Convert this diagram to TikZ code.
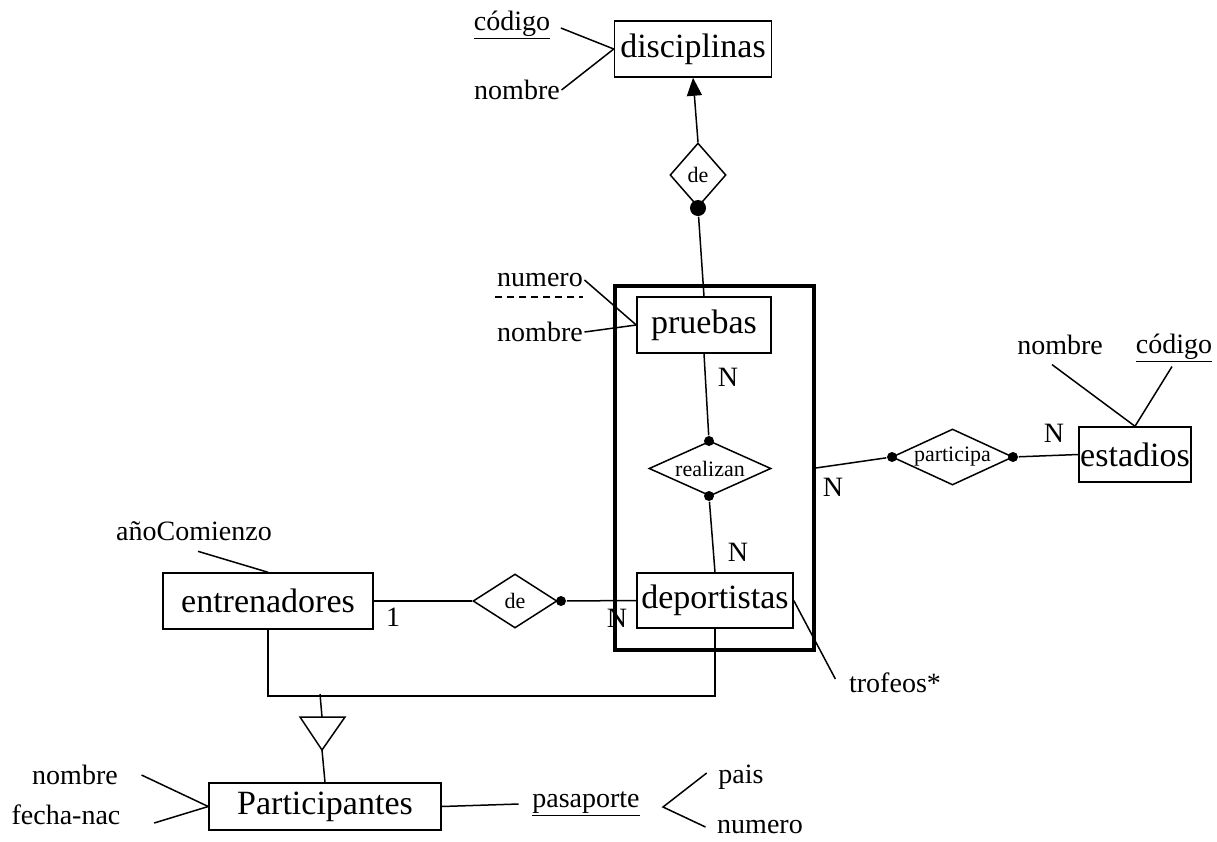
\documentclass[tikz,border=0pt]{standalone}
\usepackage{fontspec}
\setmainfont{Liberation Serif}
\usetikzlibrary{shapes.geometric,arrows.meta}

\begin{document}
\begin{tikzpicture}[x=1pt,y=-1pt,line width=1.5pt,
    entity/.style={draw,rectangle,inner sep=0pt,minimum height=56pt,font=\fontsize{34}{36}\selectfont},
    rel/.style={draw,diamond,inner sep=0pt,font=\fontsize{22}{24}\selectfont},
    attr/.style={inner sep=1pt,font=\fontsize{28}{30}\selectfont},
    card/.style={inner sep=0pt,font=\fontsize{28}{30}\selectfont},
    knob/.style={circle,fill,inner sep=0pt,minimum size=#1}]
    \useasboundingbox (0,0) rectangle (1217,841);
    % disciplinas
    \node[entity,minimum width=157pt] (disc) at (693,49) {disciplinas};
    \node[attr] (dcod) at (512,25) {\underline{código}};
    \node[attr] (dnom) at (517,90) {nombre};
    \draw ([xshift=9,yshift=-3]dcod.east) -- (disc.west);
    \draw (dnom.east) -- (disc.west);
    \node[rel,aspect=0.875,minimum width=56pt,minimum height=64pt] (dde) at (698,175) {de};
    \node[knob=16pt] (kde) at (698,208) {};
    \draw[-{Triangle[length=18pt,width=15pt]}] (dde.north) -- (disc.south);
    % agregacion
    \node[draw,line width=3.5pt,minimum width=199pt,minimum height=364pt] (agg) at (714.5,468) {};
    \node[entity,minimum width=134pt] (prue) at (704,325) {pruebas};
    \draw (kde) -- (prue.north);
    \node[attr] (pnum) at (540,280) {numero};
    \draw[dashed,dash pattern=on 7pt off 5pt,line width=1.2pt] (495,297) -- (583,297);
    \node[attr] (pnom) at (540,332) {nombre};
    \draw (pnum.east) -- (prue.west);
    \draw (pnom.east) -- (prue.west);
    \node[card] at (728,377) {N};
    \node[knob=10pt] (kr1) at (709,441) {};
    \node[rel,aspect=2.2,minimum width=122pt,minimum height=55pt] (real) at (710,468.5) {realizan};
    \node[knob=10pt] (kr2) at (709,496) {};
    \node[entity,minimum width=156pt,minimum height=55pt] (dep) at (715,600.5) {deportistas};
    \draw (prue.south) -- (kr1);
    \draw (kr2) -- (dep.north);
    \node[card] at (738,552) {N};
    \node[attr] (trof) at (895,683) {trofeos*};
    \draw (dep.east) -- ([shift={(-12,-4)}]trof.west);
    % estadios
    \node[knob=10pt] (kp1) at (892,457) {};
    \node[rel,aspect=2.16,minimum width=121pt,minimum height=56pt] (rpar) at (952.5,457) {participa};
    \node[knob=10pt] (kp2) at (1013,457) {};
    \node[entity,minimum width=112pt,minimum height=55pt] (est) at (1135,454.5) {estadios};
    \draw (agg.east) -- (kp1);
    \draw (kp2) -- (est.west);
    \node[card] at (1054,433) {N};
    \node[card] at (833,487) {N};
    \node[attr] (enom) at (1060,345) {nombre};
    \node[attr] (ecod) at (1174,348) {\underline{código}};
    \draw ([shift={(-8,8)}]enom.south) -- (est.north);
    \draw ([shift={(-2,3)}]ecod.south) -- (est.north);
    % entrenadores
    \node[entity,minimum width=210pt] (ent) at (268,601) {entrenadores};
    \node[attr] (anio) at (194,531) {añoComienzo};
    \draw ([shift={(4,9)}]anio.south) -- (ent.north);
    \node[rel,aspect=1.55,minimum width=84pt,minimum height=54pt] (ede) at (515,601) {de};
    \node[knob=10pt] (kede) at (561,601) {};
    \draw (ent.east) -- (ede.west);
    \draw (kede) -- (dep.west);
    \node[card] at (393,617) {1};
    \node[card] at (617,618) {N};
    % generalizacion
    \draw (dep.south) -- ++(0,67) -| (ent.south);
    \coordinate (gen) at (320,694);
    \coordinate (ttop) at (322,717);
    \coordinate (ttip) at (322,750);
    \draw (300,717) -- (345,717) -- (ttip) -- cycle;
    \node[entity,minimum width=232pt,minimum height=47pt] (part) at (325,806.5) {Participantes};
    \draw (gen) -- (ttop);
    \draw (ttip) -- (part.north);
    \node[attr] (qnom) at (75,775) {nombre};
    \node[attr] (qfec) at (66,815) {fecha-nac};
    \draw ([xshift=22]qnom.east) -- (part.west);
    \draw ([shift={(32,8)}]qfec.east) -- (part.west);
    \node[attr] (pasa) at (586,804) {\underline{pasaporte}};
    \draw (part.east) -- ([xshift=-12]pasa.west);
    \node[attr] (pais) at (741,777) {pais};
    \node[attr] (pnum2) at (760,827) {numero};
    \coordinate (pv) at (663,807);
    \draw ([shift={(-10,-4)}]pais.west) -- (pv) -- ([xshift=-10]pnum2.west);
\end{tikzpicture}
\end{document}
